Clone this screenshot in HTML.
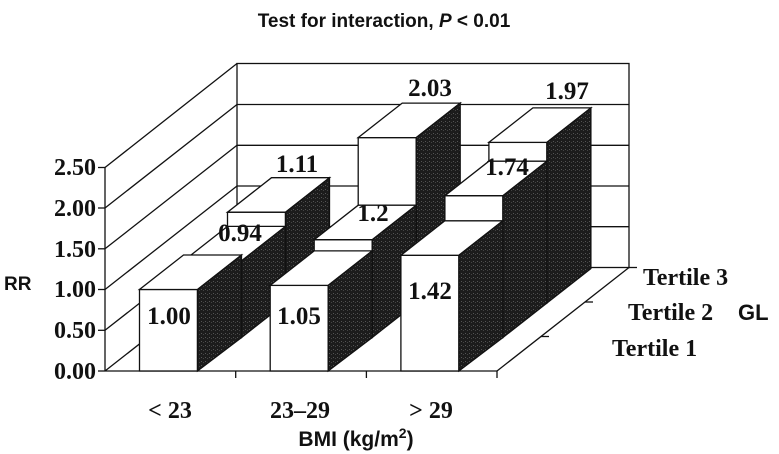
<!DOCTYPE html>
<html><head><meta charset="utf-8"><style>
html,body{margin:0;padding:0;background:#fff;}
svg{display:block;}
.v{font-family:"Liberation Serif",serif;font-weight:bold;font-size:25px;fill:#111;}
.t{font-family:"Liberation Serif",serif;font-weight:bold;font-size:24px;fill:#111;}
.s{font-family:"Liberation Sans",sans-serif;font-weight:bold;fill:#111;}
</style></head><body>
<svg width="779" height="454" viewBox="0 0 779 454" xmlns="http://www.w3.org/2000/svg">
<defs>
<pattern id="dk" width="4" height="4" patternUnits="userSpaceOnUse">
<rect width="4" height="4" fill="#1c1c1c"/>
<rect x="1" y="1" width="1" height="1" fill="#555"/>
<rect x="3" y="2" width="1" height="1" fill="#444"/>
</pattern>
</defs>
<text class="s" x="384" y="27" font-size="19" text-anchor="middle">Test for interaction, <tspan font-style="italic">P</tspan> &lt; 0.01</text>
<g stroke="#111" stroke-width="1.3" fill="none">
<rect x="237" y="63.5" width="392" height="204" fill="#fff"/>
<line x1="237" y1="226.7" x2="629" y2="226.7"/>
<line x1="237" y1="186" x2="629" y2="186"/>
<line x1="237" y1="145.3" x2="629" y2="145.3"/>
<line x1="237" y1="104.5" x2="629" y2="104.5"/>
<line x1="105" y1="371" x2="105" y2="167.5"/>
<line x1="105" y1="371" x2="237" y2="267.5"/>
<line x1="105" y1="330.3" x2="237" y2="226.7"/>
<line x1="105" y1="289.5" x2="237" y2="186"/>
<line x1="105" y1="248.8" x2="237" y2="145.3"/>
<line x1="105" y1="208" x2="237" y2="104.5"/>
<line x1="105" y1="167.5" x2="237" y2="63.5"/>
<line x1="98" y1="371" x2="105" y2="371"/>
<line x1="98" y1="330.3" x2="105" y2="330.3"/>
<line x1="98" y1="289.5" x2="105" y2="289.5"/>
<line x1="98" y1="248.8" x2="105" y2="248.8"/>
<line x1="98" y1="208" x2="105" y2="208"/>
<line x1="98" y1="167.5" x2="105" y2="167.5"/>
<line x1="105" y1="371" x2="497" y2="371"/>
<line x1="497" y1="371" x2="629" y2="267.5"/>
<line x1="235.7" y1="371" x2="235.7" y2="378"/>
<line x1="366.4" y1="371" x2="366.4" y2="378"/>
<line x1="497" y1="371" x2="497" y2="378"/>
<line x1="541" y1="336.5" x2="549" y2="336.5"/>
<line x1="585" y1="302" x2="593" y2="302"/>
<line x1="629" y1="267.5" x2="637" y2="267.5"/>
</g>
<g stroke="#111" stroke-width="1.3" stroke-linejoin="miter">
<rect x="227.5" y="212.2" width="58" height="90.8" fill="#fff"/>
<polygon points="227.5,212.2 285.5,212.2 329.5,177.7 271.5,177.7" fill="#fff"/>
<polygon points="285.5,212.2 329.5,177.7 329.5,268.5 285.5,303" fill="url(#dk)"/>
<rect x="358.2" y="137.6" width="58" height="165.4" fill="#fff"/>
<polygon points="358.2,137.6 416.2,137.6 460.2,103.1 402.2,103.1" fill="#fff"/>
<polygon points="416.2,137.6 460.2,103.1 460.2,268.5 416.2,303" fill="url(#dk)"/>
<rect x="488.9" y="142.4" width="58" height="160.6" fill="#fff"/>
<polygon points="488.9,142.4 546.9,142.4 590.9,107.9 532.9,107.9" fill="#fff"/>
<polygon points="546.9,142.4 590.9,107.9 590.9,268.5 546.9,303" fill="url(#dk)"/>
<rect x="183.5" y="260.9" width="58" height="76.6" fill="#fff"/>
<polygon points="183.5,260.9 241.5,260.9 285.5,226.4 227.5,226.4" fill="#fff"/>
<polygon points="241.5,260.9 285.5,226.4 285.5,303 241.5,337.5" fill="url(#dk)"/>
<rect x="314.2" y="239.7" width="58" height="97.8" fill="#fff"/>
<polygon points="314.2,239.7 372.2,239.7 416.2,205.2 358.2,205.2" fill="#fff"/>
<polygon points="372.2,239.7 416.2,205.2 416.2,303 372.2,337.5" fill="url(#dk)"/>
<rect x="444.9" y="195.7" width="58" height="141.8" fill="#fff"/>
<polygon points="444.9,195.7 502.9,195.7 546.9,161.2 488.9,161.2" fill="#fff"/>
<polygon points="502.9,195.7 546.9,161.2 546.9,303 502.9,337.5" fill="url(#dk)"/>
<rect x="139.5" y="289.5" width="58" height="81.5" fill="#fff"/>
<polygon points="139.5,289.5 197.5,289.5 241.5,255 183.5,255" fill="#fff"/>
<polygon points="197.5,289.5 241.5,255 241.5,337.5 197.5,371" fill="url(#dk)"/>
<rect x="270.2" y="285.4" width="58" height="85.6" fill="#fff"/>
<polygon points="270.2,285.4 328.2,285.4 372.2,250.9 314.2,250.9" fill="#fff"/>
<polygon points="328.2,285.4 372.2,250.9 372.2,337.5 328.2,371" fill="url(#dk)"/>
<rect x="400.9" y="255.3" width="58" height="115.7" fill="#fff"/>
<polygon points="400.9,255.3 458.9,255.3 502.9,220.8 444.9,220.8" fill="#fff"/>
<polygon points="458.9,255.3 502.9,220.8 502.9,337.5 458.9,371" fill="url(#dk)"/>
</g>
<g class="v" text-anchor="middle">
<text x="169" y="324">1.00</text>
<text x="299" y="324">1.05</text>
<text x="430" y="299">1.42</text>
<text x="240" y="241">0.94</text>
<text x="297" y="172">1.11</text>
<text x="373" y="221">1.2</text>
<text x="430" y="96">2.03</text>
<text x="507" y="175">1.74</text>
<text x="567" y="99">1.97</text>
</g>
<g class="t" text-anchor="end">
<text x="96" y="379">0.00</text>
<text x="96" y="338">0.50</text>
<text x="96" y="297">1.00</text>
<text x="96" y="257">1.50</text>
<text x="96" y="216">2.00</text>
<text x="96" y="175">2.50</text>
</g>
<text class="s" x="4" y="290" font-size="19">RR</text>
<g class="t" text-anchor="middle">
<text x="170" y="418">&lt; 23</text>
<text x="300" y="418">23–29</text>
<text x="431" y="418">&gt; 29</text>
</g>
<text class="s" x="356" y="446" font-size="21" text-anchor="middle">BMI (kg/m<tspan font-size="14" dy="-8">2</tspan><tspan dy="8">)</tspan></text>
<g class="t">
<text x="643" y="285">Tertile 3</text>
<text x="628" y="320">Tertile 2</text>
<text x="612" y="356">Tertile 1</text>
</g>
<text class="s" x="738" y="320" font-size="22">GL</text>
</svg>
</body></html>
